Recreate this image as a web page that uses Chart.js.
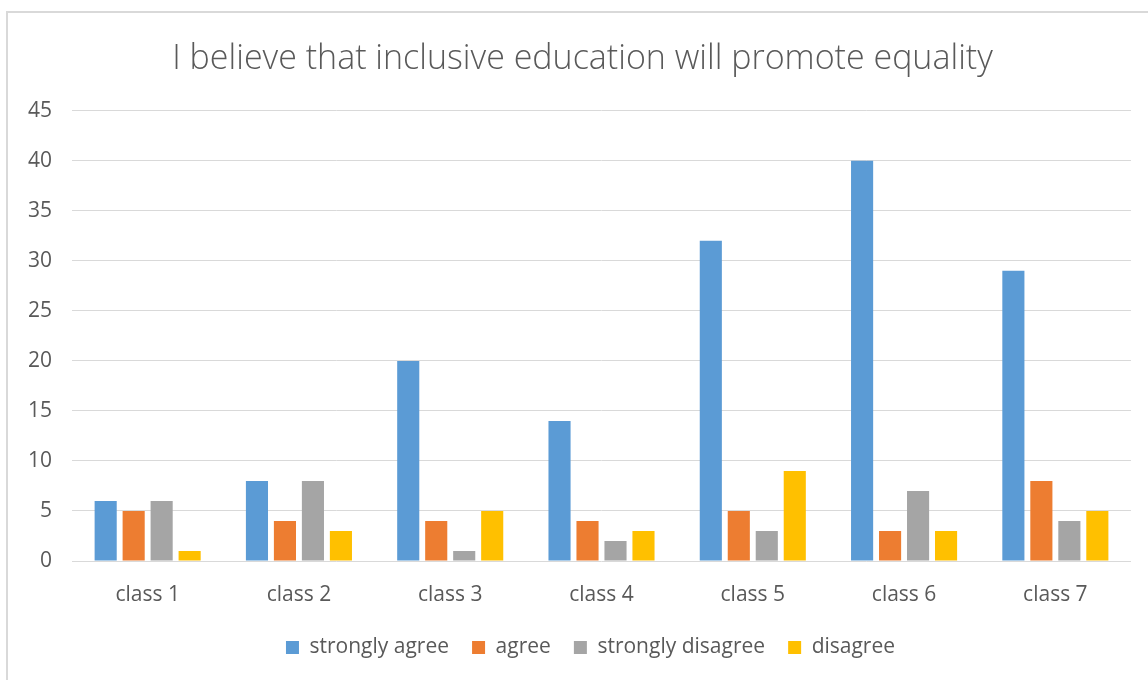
<!DOCTYPE html>
<html>
<head>
<meta charset="utf-8">
<script src="https://cdn.jsdelivr.net/npm/chart.js@4"></script>
<style>
  body { margin: 0; background: #fff; }
  #frame { position: absolute; left: 6px; top: 11px; width: 1160px; height: 700px; border: 2px solid #d9d9d9; }
  #wrap { position: absolute; left: 0; top: 0; width: 1148px; height: 680px; }
</style>
</head>
<body>
<div id="frame"></div>
<div id="wrap"><canvas id="myChart" width="1148" height="680"></canvas></div>
<script>
// data
const classes = ["class 1", "class 2", "class 3", "class 4", "class 5", "class 6", "class 7"];
const stronglyAgree = [6, 8, 20, 14, 32, 40, 29];
const agree = [5, 4, 4, 4, 5, 3, 8];
const stronglyDisagree = [6, 8, 1, 2, 3, 7, 4];
const disagree = [1, 3, 5, 3, 9, 3, 5];

const fontName = "'Open Sans', sans-serif";
const textColor = "#595959";

// title and legend sit a little right of the middle in the original
const shiftBoxes = {
  id: "shiftBoxes",
  afterLayout(chart) {
    if (chart.titleBlock) chart.titleBlock.left += 26;
    if (chart.legend) chart.legend.left += 42;
  },
};

const ctx = document.getElementById("myChart");

new Chart(ctx, {
  type: "bar",
  data: {
    labels: classes,
    datasets: [
      { label: "strongly agree", data: stronglyAgree, backgroundColor: "#5b9bd5" },
      { label: "agree", data: agree, backgroundColor: "#ed7d31" },
      { label: "strongly disagree", data: stronglyDisagree, backgroundColor: "#a5a5a5" },
      { label: "disagree", data: disagree, backgroundColor: "#ffc000" },
    ],
  },
  plugins: [shiftBoxes],
  options: {
    responsive: false,
    animation: false,
    categoryPercentage: 0.74,
    barPercentage: 0.79,
    layout: { padding: { left: 8, right: 17, bottom: 12 } },
    plugins: {
      title: {
        display: true,
        text: "I believe that inclusive education will promote equality",
        color: textColor,
        font: { family: fontName, size: 34, weight: "300" },
        padding: { top: 39, bottom: 31 },
      },
      legend: {
        position: "bottom",
        labels: {
          color: textColor,
          font: { family: fontName, size: 21 },
          boxWidth: 13,
          boxHeight: 13,
          padding: 7,
          // a bit more room between the legend items
          generateLabels: (chart) => {
            const items = Chart.defaults.plugins.legend.labels.generateLabels(chart);
            items.forEach((item, i) => {
              if (i < items.length - 1) item.text = item.text + "\u2002\u2009\u200a";
            });
            return items;
          },
        },
      },
      tooltip: { enabled: false },
    },
    scales: {
      x: {
        grid: { display: false, drawTicks: false },
        border: { display: false },
        ticks: { color: textColor, font: { family: fontName, size: 21, lineHeight: 1 }, padding: 24 },
      },
      y: {
        min: 0,
        max: 45,
        ticks: { stepSize: 5, color: textColor, font: { family: fontName, size: 21 }, padding: 20 },
        grid: { color: "#d9d9d9", lineWidth: 1, drawTicks: false },
        border: { display: false },
      },
    },
  },
});
</script>
</body>
</html>
